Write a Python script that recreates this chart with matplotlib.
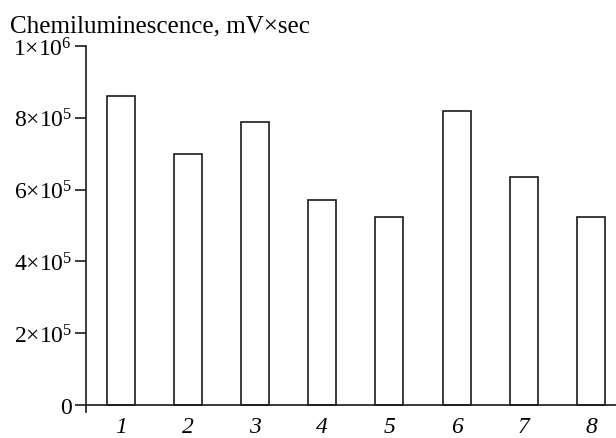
import matplotlib
matplotlib.use("Agg")
import matplotlib.pyplot as plt

categories = ["1", "2", "3", "4", "5", "6", "7", "8"]
values = [8.62e5, 7.0e5, 7.87e5, 5.72e5, 5.24e5, 8.2e5, 6.36e5, 5.24e5]
yticks = [0, 2e5, 4e5, 6e5, 8e5, 1e6]
ytick_labels = ["0", r"$2{\times}10^{5}$", r"$4{\times}10^{5}$", r"$6{\times}10^{5}$",
                r"$8{\times}10^{5}$", r"$1{\times}10^{6}$"]
ylabel = "Chemiluminescence, mV×sec"

plt.rcParams["font.family"] = ["Liberation Serif", "DejaVu Serif"]
plt.rcParams["mathtext.fontset"] = "custom"
plt.rcParams["mathtext.rm"] = "Liberation Serif"
plt.rcParams["mathtext.it"] = "Liberation Serif:italic"

W, H = 616, 439
fig = plt.figure(figsize=(W / 100, H / 100), dpi=100)
left_px, right_px, top_px, bot_px = 86, 616, 47, 413
ax = fig.add_axes([left_px / W, 1 - bot_px / H, (right_px - left_px) / W, (bot_px - top_px) / H])

x = list(range(1, len(categories) + 1))
ax.bar(x, values, width=0.417, facecolor="white", edgecolor="#1a1a1a", linewidth=1.2)

ax.set_ylim(-19500, 1e6)
ax.set_xlim(0.485, 8.372)
ax.axhline(0, color="#1a1a1a", linewidth=1.2, zorder=3)

for s in ["top", "right", "bottom"]:
    ax.spines[s].set_visible(False)
ax.spines["left"].set_linewidth(1.2)
ax.spines["left"].set_color("#1a1a1a")

ax.set_yticks(yticks)
ax.set_yticklabels(ytick_labels, fontsize=17)
ax.tick_params(axis="y", direction="out", length=8, width=1.2, pad=2, color="#1a1a1a")

ax.set_xticks(x)
ax.set_xticklabels(categories, fontsize=17, fontstyle="italic")
ax.tick_params(axis="x", length=0, pad=3)

fig.text(10 / W, 1 - 32 / H, ylabel, fontsize=18, ha="left", va="baseline")

fig.savefig("out.png", dpi=100)
